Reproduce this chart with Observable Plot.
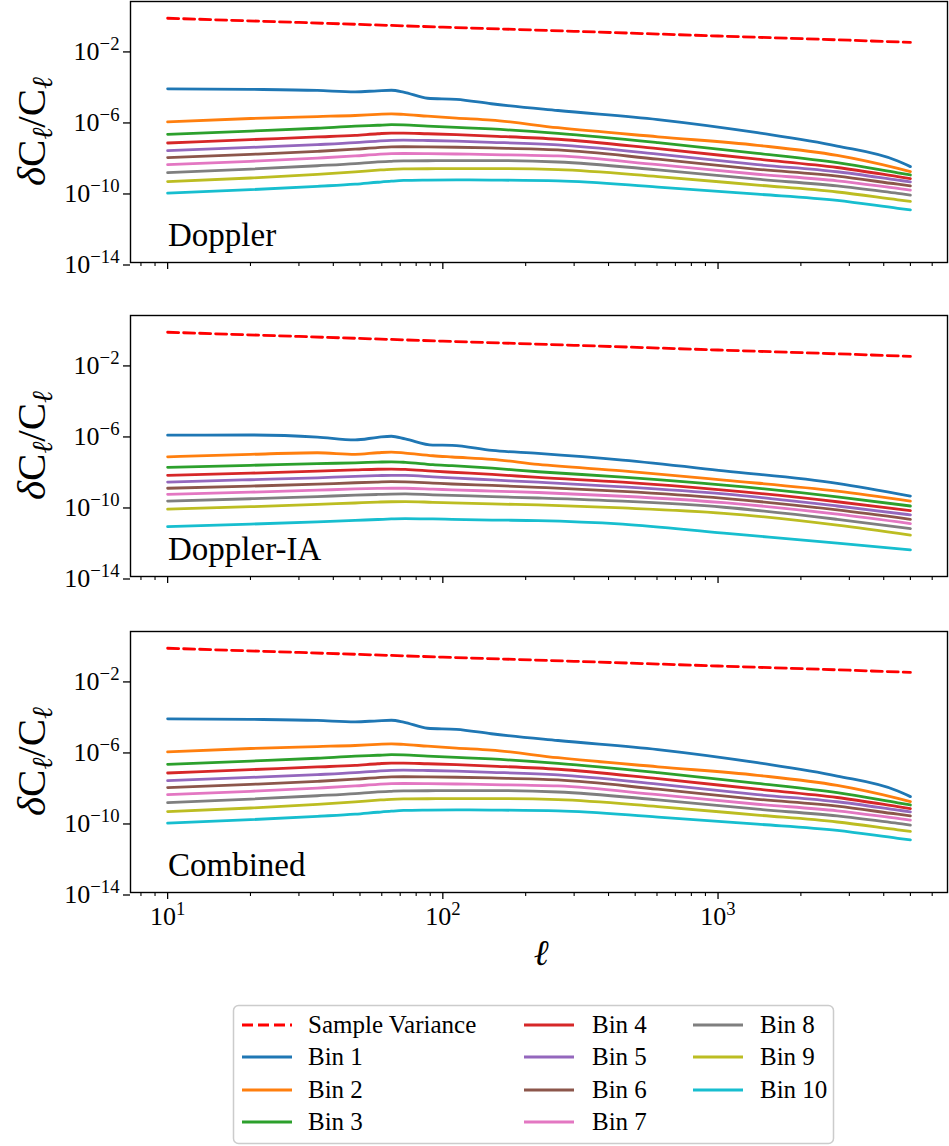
<!DOCTYPE html>
<html><head><meta charset="utf-8">
<script src="https://cdn.jsdelivr.net/npm/d3@7"></script>
<script src="https://cdn.jsdelivr.net/npm/@observablehq/plot@0.6"></script>
<style>
html,body{margin:0;padding:0;background:#fff;}
#root{position:relative;width:949px;height:1146px;font-family:"Liberation Serif",serif;}
#root svg{position:absolute;left:0;overflow:visible;}
</style></head><body><div id="root"></div>
<script>
// ---------- data (y values stored as log10) ----------
const binNames = ["Bin 1","Bin 2","Bin 3","Bin 4","Bin 5","Bin 6","Bin 7","Bin 8","Bin 9","Bin 10"];
const binColors = ["#1f77b4","#ff7f0e","#2ca02c","#d62728","#9467bd","#8c564b","#e377c2","#7f7f7f","#bcbd22","#17becf"];
const svLabel = "Sample Variance";
const svColor = "#ff0000";

// Sample variance (identical in every panel)
const svEll = [10, 30, 100, 300, 1000, 3000, 5000];
const svValues = [0.57, 0.33, 0.18, 0.105, 0.057, 0.033, 0.025];

// Doppler panel
const dopplerEll = [10, 20, 35, 48, 58, 65, 72, 88, 112, 150, 262, 605, 1390, 2710, 4500, 5000];
const dopplerLog10 = [
  [-4.22, -4.25, -4.31, -4.39, -4.33, -4.30, -4.40, -4.75, -4.81, -5.06, -5.44, -5.95, -6.69, -7.44, -8.28, -8.60],
  [-6.08, -5.89, -5.78, -5.72, -5.66, -5.63, -5.66, -5.76, -5.87, -5.98, -6.41, -6.92, -7.40, -7.97, -8.70, -8.88],
  [-6.78, -6.60, -6.44, -6.32, -6.27, -6.24, -6.25, -6.32, -6.39, -6.48, -6.73, -7.25, -7.85, -8.38, -8.95, -9.07],
  [-7.27, -7.08, -6.93, -6.84, -6.75, -6.71, -6.71, -6.75, -6.80, -6.88, -7.06, -7.59, -8.18, -8.65, -9.16, -9.27],
  [-7.70, -7.52, -7.36, -7.25, -7.16, -7.12, -7.11, -7.13, -7.17, -7.23, -7.38, -7.90, -8.49, -8.89, -9.36, -9.46],
  [-8.09, -7.91, -7.74, -7.62, -7.53, -7.49, -7.48, -7.49, -7.51, -7.55, -7.66, -8.18, -8.75, -9.14, -9.59, -9.68],
  [-8.49, -8.30, -8.12, -8.00, -7.91, -7.87, -7.86, -7.87, -7.89, -7.92, -8.00, -8.49, -9.03, -9.40, -9.83, -9.92],
  [-8.94, -8.74, -8.55, -8.43, -8.33, -8.30, -8.28, -8.27, -8.26, -8.26, -8.34, -8.78, -9.31, -9.69, -10.11, -10.20],
  [-9.44, -9.24, -9.04, -8.90, -8.80, -8.75, -8.73, -8.72, -8.71, -8.71, -8.77, -9.16, -9.64, -10.03, -10.47, -10.56],
  [-10.09, -9.90, -9.71, -9.59, -9.48, -9.42, -9.38, -9.36, -9.35, -9.36, -9.40, -9.75, -10.15, -10.50, -10.95, -11.04]
];

// Doppler-IA panel
const iaEll = [10, 20, 35, 48, 58, 65, 73, 92, 108, 151, 222, 450, 1050, 2710, 5000];
const iaLog10 = [
  [-6.04, -6.03, -6.15, -6.31, -6.16, -6.10, -6.25, -6.60, -6.61, -6.90, -7.07, -7.45, -8.05, -8.75, -9.47],
  [-7.26, -7.12, -7.03, -7.12, -7.03, -6.99, -7.05, -7.20, -7.27, -7.40, -7.69, -8.05, -8.57, -9.19, -9.75],
  [-7.85, -7.74, -7.64, -7.60, -7.56, -7.54, -7.57, -7.70, -7.76, -7.90, -8.10, -8.40, -8.85, -9.51, -10.03],
  [-8.30, -8.18, -8.07, -8.00, -7.96, -7.95, -7.97, -8.07, -8.13, -8.25, -8.42, -8.68, -9.13, -9.79, -10.29],
  [-8.68, -8.55, -8.44, -8.36, -8.32, -8.30, -8.31, -8.39, -8.45, -8.56, -8.69, -8.95, -9.35, -10.03, -10.53],
  [-9.03, -8.91, -8.80, -8.72, -8.68, -8.66, -8.67, -8.74, -8.79, -8.87, -8.98, -9.21, -9.60, -10.25, -10.78],
  [-9.37, -9.25, -9.14, -9.07, -9.04, -9.03, -9.03, -9.08, -9.12, -9.19, -9.27, -9.48, -9.84, -10.49, -11.02],
  [-9.75, -9.62, -9.50, -9.42, -9.38, -9.36, -9.35, -9.40, -9.43, -9.50, -9.58, -9.76, -10.10, -10.78, -11.30],
  [-10.21, -10.07, -9.94, -9.86, -9.81, -9.79, -9.78, -9.82, -9.85, -9.91, -9.97, -10.14, -10.44, -11.11, -11.67],
  [-11.19, -11.05, -10.92, -10.84, -10.79, -10.76, -10.74, -10.76, -10.78, -10.82, -10.85, -11.05, -11.56, -12.12, -12.50]
];

// Combined panel (visually identical to the Doppler panel in the reference)
const combinedEll = dopplerEll;
const combinedLog10 = dopplerLog10;

// axes
const yTicks = [1e-14, 1e-10, 1e-6, 1e-2];
const xMajor = [10, 100, 1000];
const xMinor = [8, 9, 20, 30, 40, 50, 60, 70, 80, 90, 200, 300, 400, 500, 600, 700, 800, 900, 2000, 3000, 4000, 5000, 6000];
const xDomain = [7.33, 6820];
const yDomain = [1e-14, 5];

const panels = [
  {name: "Doppler", ell: dopplerEll, logs: dopplerLog10, top: 0, last: false},
  {name: "Doppler-IA", ell: iaEll, logs: iaLog10, top: 313.5, last: false},
  {name: "Combined", ell: combinedEll, logs: combinedLog10, top: 629.5, last: true}
];

// ---------- drawing ----------
const FONT = "Liberation Serif";
const TICKFONT = 26;
const root = document.getElementById("root");
const innerH = 261;

function supify(svg) {
  d3.select(svg).selectAll("text").each(function() {
    const m = /^10\^(-?\d+)$/.exec(this.textContent);
    if (!m) return;
    const sel = d3.select(this);
    sel.text("10");
    sel.append("tspan").attr("dy", "-0.55em").attr("font-size", "0.72em").text(m[1].replace("-", "\u2212"));
  });
}

for (const p of panels) {
  const rows = [];
  p.logs.forEach((arr, i) => arr.forEach((v, j) => rows.push({ell: p.ell[j], value: Math.pow(10, v), bin: binNames[i]})));
  const sv = svEll.map((l, j) => ({ell: l, value: svValues[j]}));
  const mb = p.last ? 84 : 10;
  const chart = Plot.plot({
    width: 949, height: 1 + innerH + mb,
    marginLeft: 130, marginRight: 2, marginTop: 1, marginBottom: mb,
    style: {fontFamily: FONT, fontSize: TICKFONT + "px", color: "black", background: "transparent", overflow: "visible"},
    x: {type: "log", domain: xDomain},
    y: {type: "log", domain: yDomain},
    color: {type: "ordinal", domain: binNames, range: binColors},
    marks: [
      Plot.lineY(rows, {x: "ell", y: "value", z: "bin", stroke: "bin", strokeWidth: 2.8, curve: "monotone-x"}),
      Plot.lineY(sv, {x: "ell", y: "value", stroke: svColor, strokeWidth: 2.8, strokeDasharray: "11,5"}),
      Plot.axisY(yTicks, {tickFormat: d => "10^" + Math.round(Math.log10(d)), tickSize: 7, tickPadding: 4, strokeWidth: 1.3, fontSize: TICKFONT, dy: 2.5, label: null}),
      Plot.axisX(xMajor, {tickFormat: p.last ? (d => "10^" + Math.round(Math.log10(d))) : (() => ""), tickSize: 7, tickPadding: 7, strokeWidth: 1.3, fontSize: TICKFONT, label: null}),
      Plot.axisX(xMinor, {tickFormat: () => "", tickSize: 4, strokeWidth: 1.1, label: null}),
      Plot.frame({stroke: "black", strokeWidth: 1.4})
    ]
  });
  chart.style.top = p.top + "px";
  root.appendChild(chart);
  supify(chart);
  const svg = d3.select(chart);
  // panel name
  svg.append("text").attr("x", 168).attr("y", 246).attr("text-anchor", "start").attr("font-family", FONT)
    .attr("font-size", 33).attr("fill", "black").text(p.name);
  // y label  δC_ℓ / C_ℓ
  const yl = svg.append("text").attr("transform", `translate(45,${1 + innerH / 2}) rotate(-90)`)
    .attr("text-anchor", "middle").attr("font-family", FONT).attr("font-size", 41).attr("fill", "black");
  yl.append("tspan").attr("font-style", "italic").text("\u03b4");
  yl.append("tspan").text("C");
  yl.append("tspan").attr("font-style", "italic").attr("font-size", "0.7em").attr("dy", "0.25em").text("\u2113");
  yl.append("tspan").attr("dy", "-0.175em").text("/C");
  yl.append("tspan").attr("font-style", "italic").attr("font-size", "0.7em").attr("dy", "0.25em").text("\u2113");
  if (p.last) {
    svg.append("text").attr("x", 541).attr("y", 335).attr("text-anchor", "middle").attr("font-family", FONT)
      .attr("font-size", 36).attr("font-style", "italic").attr("fill", "black").text("\u2113");
  }
}

// ---------- legend ----------
const lg = d3.select(root).append("svg").attr("width", 949).attr("height", 146).style("top", "1000px");
lg.append("rect").attr("x", 233.5).attr("y", 5.5).attr("width", 600).attr("height", 138).attr("rx", 5)
  .attr("fill", "white").attr("stroke", "#cccccc").attr("stroke-width", 1.5);
const entries = [{name: svLabel, color: svColor, dash: "11,5"}].concat(binNames.map((n, i) => ({name: n, color: binColors[i], dash: null})));
const cols = [{hx: 242, tx: 308}, {hx: 524, tx: 592}, {hx: 693, tx: 760}];
const rowY = [25, 57, 90, 122];
entries.forEach((e, k) => {
  const c = cols[Math.floor(k / 4)], r = rowY[k % 4];
  lg.append("line").attr("x1", c.hx).attr("x2", c.hx + 50).attr("y1", r).attr("y2", r)
    .attr("stroke", e.color).attr("stroke-width", 2.8).attr("stroke-dasharray", e.dash);
  lg.append("text").attr("x", c.tx).attr("y", r).attr("dy", "0.33em").attr("font-family", FONT)
    .attr("font-size", 25).attr("fill", "black").text(e.name);
});
</script></body></html>
